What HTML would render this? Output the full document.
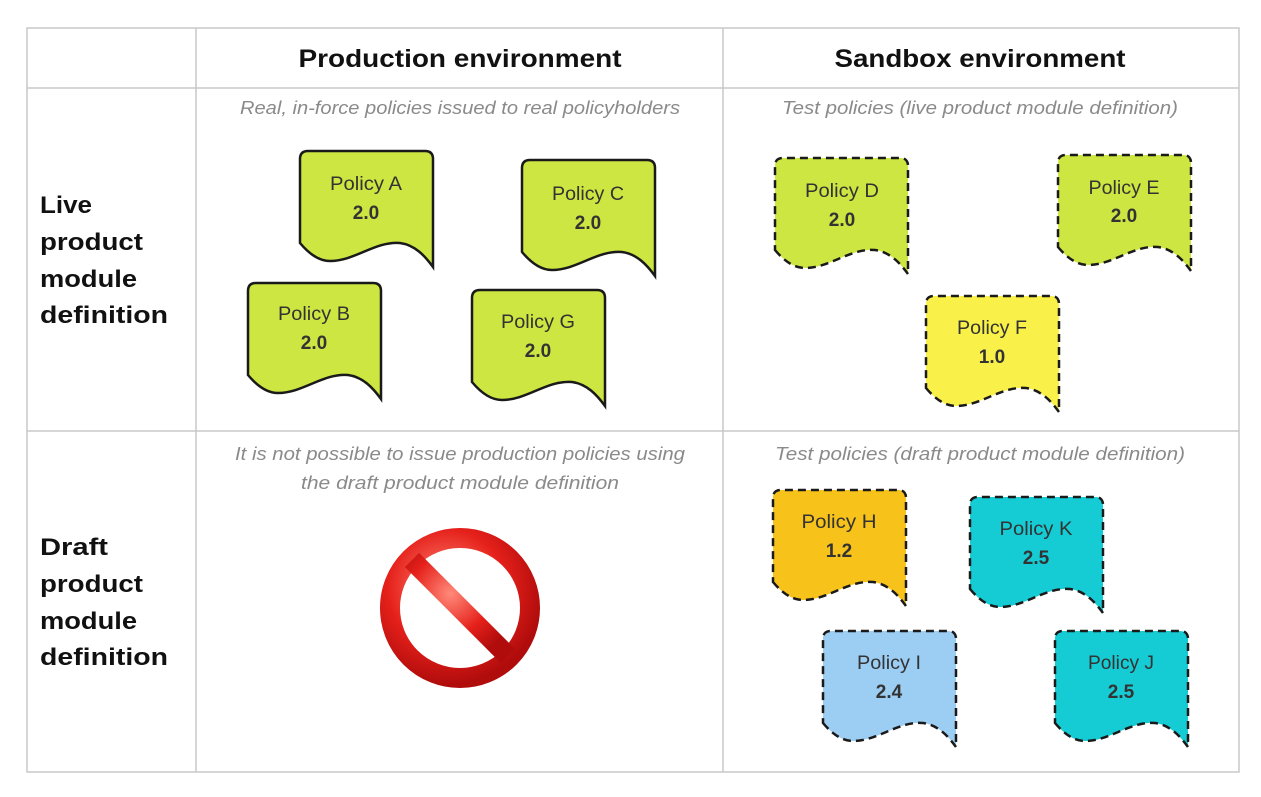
<!DOCTYPE html>
<html><head><style>
body{margin:0;background:#fff;width:1261px;height:792px;overflow:hidden;font-family:"Liberation Sans",sans-serif}
</style></head><body>
<svg width="1261" height="792" viewBox="0 0 1261 792" xmlns="http://www.w3.org/2000/svg" font-family="Liberation Sans, sans-serif">
<defs>
<path id="doc" d="M0,92 C10,104 20,110 30,110 C55,110 75,90 100,92 C115,94 125,105 133,116 V8 Q133,0 125,0 H8 Q0,0 0,8 Z"/>
<radialGradient id="rg" cx="0.4" cy="0.35" r="0.7"><stop offset="0" stop-color="#ff8a7a"/><stop offset="0.6" stop-color="#e5201a"/><stop offset="1" stop-color="#b00c0c"/></radialGradient>
</defs>
<g fill="none" stroke="#c8c8c8" stroke-width="1.5">
<rect x="27" y="28" width="1212" height="744"/>
<line x1="196" y1="28" x2="196" y2="772"/><line x1="723" y1="28" x2="723" y2="772"/>
<line x1="27" y1="88" x2="1239" y2="88"/><line x1="27" y1="431" x2="1239" y2="431"/>
</g>
<g font-weight="bold" font-size="25" fill="#111" text-anchor="middle" lengthAdjust="spacingAndGlyphs">
<text x="460" y="67" textLength="323" lengthAdjust="spacingAndGlyphs">Production environment</text>
<text x="980" y="67" textLength="291" lengthAdjust="spacingAndGlyphs">Sandbox environment</text>
</g>
<g font-weight="bold" font-size="24" fill="#111">
<text x="40" y="213" textLength="52" lengthAdjust="spacingAndGlyphs">Live</text><text x="40" y="250" textLength="103" lengthAdjust="spacingAndGlyphs">product</text><text x="40" y="287" textLength="97" lengthAdjust="spacingAndGlyphs">module</text><text x="40" y="323" textLength="128" lengthAdjust="spacingAndGlyphs">definition</text>
<text x="40" y="555" textLength="68" lengthAdjust="spacingAndGlyphs">Draft</text><text x="40" y="592" textLength="103" lengthAdjust="spacingAndGlyphs">product</text><text x="40" y="629" textLength="97" lengthAdjust="spacingAndGlyphs">module</text><text x="40" y="665" textLength="128" lengthAdjust="spacingAndGlyphs">definition</text>
</g>
<g font-style="italic" font-size="18" fill="#8a8a8a" text-anchor="middle">
<text x="460" y="114" textLength="440" lengthAdjust="spacingAndGlyphs">Real, in-force policies issued to real policyholders</text>
<text x="980" y="114" textLength="396" lengthAdjust="spacingAndGlyphs">Test policies (live product module definition)</text>
<text x="460" y="460" textLength="450" lengthAdjust="spacingAndGlyphs">It is not possible to issue production policies using</text>
<text x="460" y="489" textLength="318" lengthAdjust="spacingAndGlyphs">the draft product module definition</text>
<text x="980" y="460" textLength="410" lengthAdjust="spacingAndGlyphs">Test policies (draft product module definition)</text>
</g>
<g stroke="#1a1a1a" stroke-width="2.5">
<use href="#doc" x="300" y="151" fill="#cde641"/>
<use href="#doc" x="522" y="160" fill="#cde641"/>
<use href="#doc" x="248" y="283" fill="#cde641"/>
<use href="#doc" x="472" y="290" fill="#cde641"/>
</g>
<g stroke="#1a1a1a" stroke-width="2.5" stroke-dasharray="8,5">
<use href="#doc" x="775" y="158" fill="#cde641"/>
<use href="#doc" x="1058" y="155" fill="#cde641"/>
<use href="#doc" x="926" y="296" fill="#f9f049"/>
<use href="#doc" x="773" y="490" fill="#f7c21a"/>
<use href="#doc" x="970" y="497" fill="#16ccd4"/>
<use href="#doc" x="823" y="631" fill="#9ccdf3"/>
<use href="#doc" x="1055" y="631" fill="#16ccd4"/>
</g>
<g font-size="19" fill="#333" text-anchor="middle">
<text x="366" y="190" textLength="72" lengthAdjust="spacingAndGlyphs">Policy A</text><text x="366" y="219" font-weight="bold">2.0</text>
<text x="588" y="200" textLength="72" lengthAdjust="spacingAndGlyphs">Policy C</text><text x="588" y="229" font-weight="bold">2.0</text>
<text x="314" y="320" textLength="72" lengthAdjust="spacingAndGlyphs">Policy B</text><text x="314" y="349" font-weight="bold">2.0</text>
<text x="538" y="328" textLength="74" lengthAdjust="spacingAndGlyphs">Policy G</text><text x="538" y="357" font-weight="bold">2.0</text>
<text x="842" y="197" textLength="74" lengthAdjust="spacingAndGlyphs">Policy D</text><text x="842" y="226" font-weight="bold">2.0</text>
<text x="1124" y="194" textLength="71" lengthAdjust="spacingAndGlyphs">Policy E</text><text x="1124" y="222" font-weight="bold">2.0</text>
<text x="992" y="334" textLength="70" lengthAdjust="spacingAndGlyphs">Policy F</text><text x="992" y="363" font-weight="bold">1.0</text>
<text x="839" y="528" textLength="75" lengthAdjust="spacingAndGlyphs">Policy H</text><text x="839" y="557" font-weight="bold">1.2</text>
<text x="1036" y="535" textLength="73" lengthAdjust="spacingAndGlyphs">Policy K</text><text x="1036" y="564" font-weight="bold">2.5</text>
<text x="889" y="669" textLength="64" lengthAdjust="spacingAndGlyphs">Policy I</text><text x="889" y="698" font-weight="bold">2.4</text>
<text x="1121" y="669" textLength="66" lengthAdjust="spacingAndGlyphs">Policy J</text><text x="1121" y="698" font-weight="bold">2.5</text>
</g>
<g>
<circle cx="460" cy="608" r="70" fill="none" stroke="url(#rg)" stroke-width="20"/>
<line x1="412" y1="560" x2="508" y2="656" stroke="url(#rg)" stroke-width="20"/>
</g>
</svg>
</body></html>
